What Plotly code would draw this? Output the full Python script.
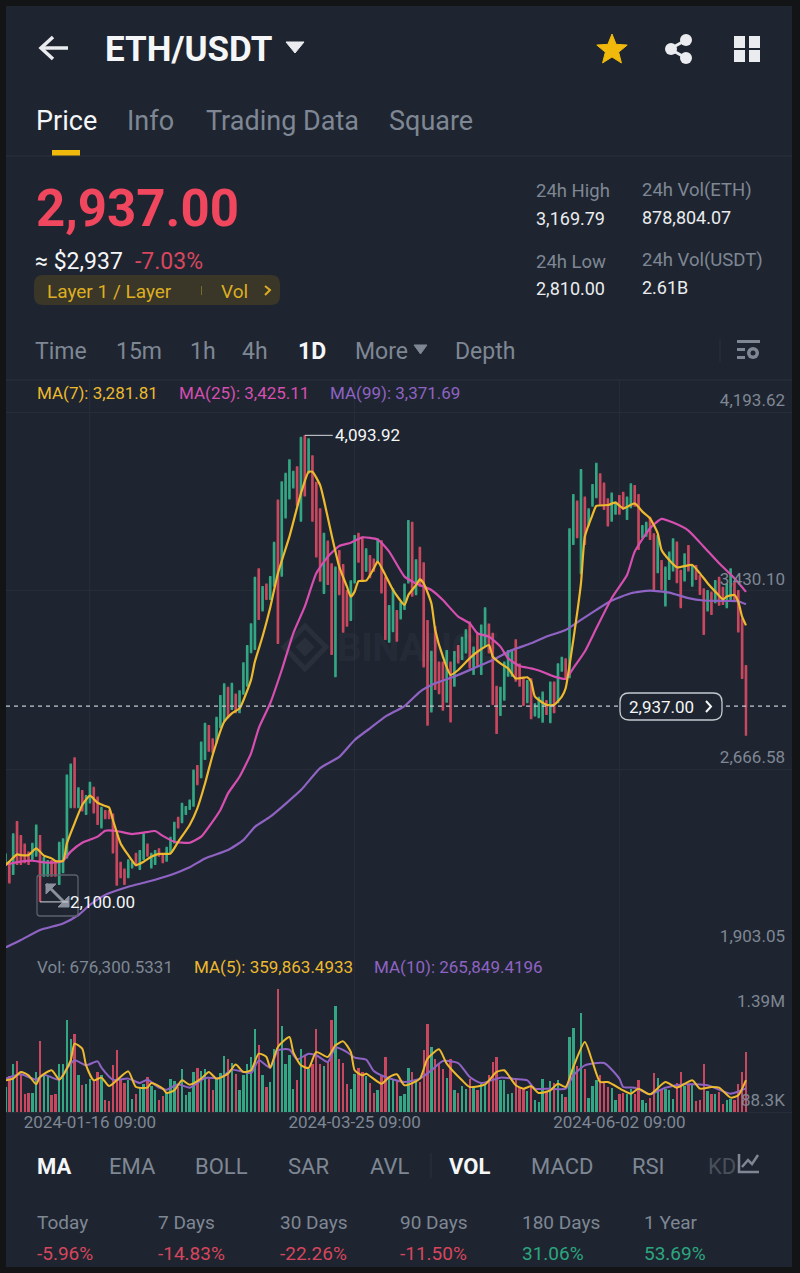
import math
import pandas as pd
import plotly.graph_objects as go

W, H = 800, 1273

# daily candles, 2023-12-25 .. 2024-07-05
dates = pd.date_range("2023-12-25 09:00", periods=194, freq="D")

high = [2308,2272,2393,2446,2386,2350,2315,2353,2431,2386,
        2293,2279,2279,2272,2357,2372,2645,2692,2718,2590,
        2578,2557,2614,2592,2550,2507,2493,2493,2478,2393,
        2272,2243,2282,2272,2310,2322,2393,2350,2310,2322,
        2329,2307,2336,2379,2443,2464,2524,2510,2538,2666,
        2685,2785,2866,2856,2799,2891,2984,3034,3020,3037,
        2991,3005,3124,3198,3291,3490,3526,3450,3461,3493,
        3639,3820,3898,3934,3992,3943,3962,4088,4093.92,4081,
        4009,3896,3782,3678,3644,3547,3533,3604,3544,3433,
        3475,3668,3678,3661,3611,3582,3568,3653,3646,3490,
        3369,3440,3347,3383,3461,3732,3725,3564,3618,3551,
        3305,3173,3279,3127,3127,3176,3127,3172,3198,3233,
        3265,3298,3191,3248,3286,3359,3290,3250,3024,3020,
        3127,3176,3176,3222,3119,3062,3048,3056,2949,2977,
        2999,2963,3042,3042,3120,3148,3141,3697,3843,3815,
        3950,3832,3782,3886,3977,3932,3892,3825,3850,3811,
        3839,3853,3832,3889,3882,3843,3711,3725,3746,3675,
        3668,3561,3533,3597,3654,3640,3519,3590,3625,3540,
        3540,3497,3440,3433,3426,3476,3490,3447,3462,3526,
        3469,3433,3312,3112]

low = [2253,2179,2215,2258,2258,2265,2258,2279,2293,2100,
       2208,2208,2208,2208,2172,2222,2286,2500,2500,2500,
       2486,2471,2521,2478,2429,2414,2453,2453,2307,2169,
       2201,2172,2201,2243,2251,2236,2279,2293,2243,2258,
       2293,2265,2272,2307,2350,2414,2436,2471,2493,2507,
       2599,2628,2706,2742,2735,2777,2842,2870,2884,2920,
       2906,2906,2985,3020,3163,3177,3305,3341,3390,3390,
       3447,3202,3490,3738,3820,3867,3792,3725,3832,3931,
       3725,3572,3468,3416,3454,3155,3060,3411,3250,3276,
       3300,3461,3549,3475,3511,3483,3511,3547,3418,3219,
       3208,3252,3212,3307,3347,3461,3404,3411,3447,3102,
       2853,2909,3006,2987,2917,2951,2867,3020,3119,3134,
       3162,3098,3070,3105,3070,3191,3162,2941,2818,2895,
       2960,3062,3062,3041,3020,2937,2949,2881,2892,2885,
       2866,2899,2864,2906,2949,3084,3049,3056,3625,3654,
       3500,3625,3707,3789,3825,3796,3775,3704,3725,3754,
       3754,3775,3732,3782,3789,3604,3654,3661,3647,3433,
       3504,3433,3362,3476,3512,3462,3355,3469,3512,3447,
       3476,3412,3241,3341,3326,3376,3366,3369,3355,3390,
       3390,3251,3053,2810]

open_ = [2263,2262,2225,2436,2376,2340,2305,2289,2303,2349,
         2218,2218,2269,2262,2182,2232,2296,2510,2708,2510,
         2568,2481,2531,2582,2540,2424,2483,2483,2468,2383,
         2262,2233,2211,2253,2300,2246,2289,2340,2253,2268,
         2319,2297,2282,2317,2360,2454,2446,2481,2503,2517,
         2675,2638,2716,2846,2789,2787,2852,2880,3010,2930,
         2981,2916,2995,3030,3173,3187,3516,3351,3451,3400,
         3457,3810,3500,3748,3830,3877,3952,3735,4084,3941,
         3999,3886,3772,3426,3634,3537,3070,3594,3534,3423,
         3310,3471,3668,3651,3521,3572,3558,3557,3636,3480,
         3218,3262,3337,3317,3357,3471,3715,3421,3608,3541,
         3295,2919,3269,3117,3117,2961,3117,3030,3188,3144,
         3172,3288,3080,3238,3080,3201,3280,3240,3014,2905,
         2970,3072,3072,3212,3109,3052,2959,3046,2902,2895,
         2876,2953,2874,3032,2959,3094,3131,3066,3635,3805,
         3510,3822,3717,3799,3835,3922,3882,3815,3735,3764,
         3829,3843,3742,3792,3872,3833,3664,3671,3736,3665,
         3514,3551,3372,3486,3522,3630,3509,3479,3615,3457,
         3530,3487,3430,3351,3416,3386,3480,3437,3365,3400,
         3459,3423,3302,3102]

close = [2298,2189,2383,2268,2268,2275,2268,2343,2421,2210,
         2283,2269,2218,2218,2347,2362,2635,2682,2510,2580,
         2496,2547,2604,2488,2439,2497,2463,2463,2317,2179,
         2211,2182,2272,2262,2261,2312,2383,2303,2300,2312,
         2303,2275,2326,2369,2433,2424,2514,2500,2528,2656,
         2609,2775,2856,2752,2745,2881,2974,3024,2894,3027,
         2916,2995,3114,3188,3281,3480,3315,3440,3400,3483,
         3629,3212,3888,3924,3982,3933,3802,4078,3842,4071,
         3735,3582,3478,3668,3464,3165,3523,3421,3260,3286,
         3465,3658,3559,3485,3601,3493,3521,3643,3428,3229,
         3359,3430,3222,3373,3451,3722,3414,3554,3457,3112,
         2863,3163,3016,2997,2927,3166,2877,3162,3129,3223,
         3255,3108,3181,3115,3276,3349,3172,2951,2828,3010,
         3117,3166,3166,3051,3030,2947,3038,2891,2939,2967,
         2989,2909,3032,2916,3110,3138,3059,3687,3833,3664,
         3940,3635,3772,3876,3967,3806,3785,3714,3840,3801,
         3764,3785,3822,3879,3799,3614,3701,3715,3657,3443,
         3658,3443,3523,3587,3644,3472,3365,3580,3522,3530,
         3486,3422,3251,3423,3336,3466,3376,3379,3452,3516,
         3400,3261,3063,2937]

# volume in thousands
volume_k = [282,406,537,579,413,207,218,214,451,796,
            432,402,188,207,537,545,1033,827,883,417,
            301,312,376,357,451,413,139,124,526,695,
            357,327,357,147,207,282,319,394,289,244,
            131,177,225,368,346,282,488,188,222,447,
            500,462,481,376,244,368,443,631,594,556,
            425,244,413,545,620,939,751,413,282,338,
            714,1386,966,537,639,255,357,714,627,488,
            545,939,545,515,564,1041,1198,601,552,319,
            263,432,496,451,402,327,214,244,402,620,
            376,357,346,180,207,492,455,357,338,695,
            988,733,601,545,488,387,601,244,218,289,
            255,376,289,252,319,319,421,560,620,357,
            357,199,218,357,282,263,237,301,139,113,
            368,225,349,327,357,199,169,845,947,515,
            1120,481,162,289,364,413,327,282,271,131,
            207,218,207,263,199,364,139,105,162,440,
            387,263,263,252,150,331,447,293,301,301,
            120,131,541,237,207,199,225,86,139,147,
            139,312,447,676.3]

# moving averages, read at the candle numbers listed with them
ma7_at = [0,1,3,4,6,8,10,12,13,15,16,18,20,22,24,26,27,28,30,32,34,36,38,40,43,45,48,50,52,54,57,59,61,
          64,65,67,69,71,74,77,79,80,82,83,85,87,89,90,91,92,94,96,97,99,101,104,105,107,108,109,111,112,
          114,116,118,121,123,126,127,129,131,133,136,137,138,141,143,145,146,148,150,151,153,154,157,159,
          161,164,166,168,170,171,173,175,179,181,183,185,187,188,190,191,192,193]
ma7 = [2258,2272,2303,2300,2300,2329,2298,2286,2275,2275,2350,2436,2514,2554,2524,2510,2503,2450,2350,
       2300,2258,2272,2293,2305,2307,2357,2429,2500,2606,2728,2870,2906,2927,3049,3127,3234,3358,3504,
       3661,3846,3938,3938,3881,3817,3668,3532,3447,3404,3426,3471,3473,3525,3554,3497,3433,3369,3411,
       3454,3478,3461,3376,3262,3148,3070,3091,3141,3169,3198,3148,3119,3098,3055,3060,3042,2977,2942,
       2942,2977,3013,3220,3462,3661,3754,3792,3796,3806,3782,3803,3768,3739,3675,3604,3561,3530,3540,
       3504,3462,3426,3393,3405,3412,3383,3319,3281.81]

ma25_at = [0,4,7,10,13,15,17,20,24,26,29,33,36,39,41,44,48,51,53,56,58,61,64,66,69,72,75,78,81,84,87,90,
           93,97,100,104,107,111,114,118,121,123,126,129,131,134,137,139,143,146,148,151,154,158,162,164,
           168,171,174,178,182,186,190,193]
ma25 = [2260,2272,2276,2269,2269,2275,2315,2353,2379,2404,2403,2390,2396,2403,2382,2357,2353,2379,2421,
        2493,2564,2635,2735,2842,2949,3091,3248,3362,3504,3575,3621,3635,3658,3649,3597,3490,3461,3433,
        3390,3319,3290,3248,3233,3191,3141,3108,3098,3089,3063,3053,3099,3170,3269,3398,3497,3597,3697,
        3737,3721,3687,3618,3547,3483,3425.11]

ma99_at = [0,4,9,15,19,22,26,32,37,43,48,52,58,62,65,69,77,82,87,91,95,99,104,108,112,117,122,127,132,137,
           141,146,150,154,158,163,168,173,178,182,187,191,193]
ma99 = [1905,1937,1980,2008,2044,2087,2130,2165,2186,2215,2248,2286,2322,2364,2421,2464,2578,2672,2720,
        2792,2842,2892,2937,2998,3034,3063,3098,3134,3176,3205,3234,3262,3305,3348,3388,3419,3430,3422,
        3398,3388,3386,3385,3371.69]

vol_ma5_at = [0,2,4,6,8,9,12,14,15,17,18,20,21,23,25,27,29,32,34,37,38,41,42,44,46,48,51,53,55,58,60,62,64,66,
              68,69,71,74,75,77,79,81,84,86,88,90,91,93,94,98,100,102,104,108,110,113,115,119,121,125,128,
              130,133,135,137,139,142,144,146,148,151,153,155,157,161,163,165,168,172,175,179,181,184,186,
              189,191,193]
vol_ma5 = [357,376,451,413,312,394,470,364,413,582,770,714,526,357,387,293,357,458,282,274,327,263,214,244,
           357,308,376,451,376,432,534,451,470,657,620,500,733,845,676,526,496,676,620,751,796,676,470,413,
           432,319,394,425,301,376,601,706,545,357,282,312,451,470,301,263,289,214,244,319,282,507,789,564,
           338,338,244,207,263,199,338,274,357,263,282,274,162,188,359.86]

vol_ma10_at = [0,4,6,8,10,14,16,18,21,24,25,28,32,35,37,40,42,45,48,52,56,59,64,66,69,71,74,76,79,81,84,86,89,
               91,94,96,99,104,108,111,114,118,121,124,129,133,136,138,142,146,148,151,156,160,161,164,168,172,
               177,183,189,193]
vol_ma10 = [376,425,394,364,421,364,488,582,526,571,500,364,376,327,364,274,252,312,274,383,383,477,440,582,
            500,695,703,594,657,639,564,725,676,612,590,462,394,338,376,470,575,552,394,327,387,372,357,263,
            263,263,413,526,552,376,282,274,199,274,312,301,207,265.85]

price_ticks = [4193.62, 3430.10, 2666.58, 1903.05]
date_ticks = ["2024-01-16 09:00", "2024-03-25 09:00", "2024-06-02 09:00"]
last_price = 2937.00

BG = "#1E2530"
EDGE = "#131415"
LINE = "#2B313C"
GRID = "#272D38"
GREEN = "#33A683"
RED = "#C9485F"
GOLD = "#F0B90B"
YEL = "#EDB92E"
PINK = "#D64FB0"
PURP = "#8F63C3"
GREY = "#7F8794"
WHITE = "#EAECEF"
FONT = "Roboto"


def px(x):
    return x / W


def py(y):
    return 1 - y / H


texts = []
shapes = []


def txt(x, y, s, size=18, color=GREY, bold=False, anchor="left"):
    # annotations carry about 1.5px of padding
    texts.append(dict(x=px(x - 1.5), y=py(y), xref="paper", yref="paper", text=f"<b>{s}</b>" if bold else s,
                      showarrow=False, xanchor=anchor, yanchor="middle",
                      font=dict(size=size, color=color, family=FONT)))


def rect(x0, y0, x1, y1, fill, line=None, layer="above"):
    shapes.append(dict(type="rect", xref="paper", yref="paper", x0=px(x0), x1=px(x1), y0=py(y0), y1=py(y1),
                       fillcolor=fill, line=dict(width=0 if line is None else 1, color=line or fill), layer=layer))


def path(points, color, width=2, fill=None, close_it=False, layer="above"):
    d = "M " + " L ".join(f"{px(a):.5f},{py(b):.5f}" for a, b in points) + (" Z" if close_it else "")
    shapes.append(dict(type="path", xref="paper", yref="paper", path=d, layer=layer,
                       fillcolor=fill if fill else "rgba(0,0,0,0)", line=dict(color=color, width=width)))


def round_box(x0, y0, x1, y1, r, fill, line, layer="above"):
    a, b, c, e = px(x0), py(y0), px(x1), py(y1)
    rx, ry = r / W, r / H
    d = (f"M {a+rx},{b} L {c-rx},{b} Q {c},{b} {c},{b-ry} L {c},{e+ry} Q {c},{e} {c-rx},{e} "
         f"L {a+rx},{e} Q {a},{e} {a},{e+ry} L {a},{b-ry} Q {a},{b} {a+rx},{b} Z")
    shapes.append(dict(type="path", xref="paper", yref="paper", path=d, fillcolor=fill, layer=layer,
                       line=dict(color=line, width=1.3 if line != fill else 0)))


def dot(x, y, r, color):
    shapes.append(dict(type="circle", xref="paper", yref="paper", x0=px(x - r), x1=px(x + r), y0=py(y - r),
                       y1=py(y + r), fillcolor=color, line=dict(width=0)))


# page background
rect(6, 6, 792, 1267, BG, layer="below")

# header
path([(68, 48), (41, 48)], WHITE, 3.5)
path([(53, 37), (41, 48), (53, 59)], WHITE, 3.5)
txt(104, 49, "ETH/USDT", 35, "#F5F6F7", True)
path([(286, 42), (304, 42), (295, 53)], WHITE, 1, WHITE, True)
star = []
for k in range(10):
    r = 16 if k % 2 == 0 else 7
    star.append((612 + r * math.sin(k * math.pi / 5), 50 - r * math.cos(k * math.pi / 5)))
path(star, GOLD, 1, GOLD, True)
path([(686, 40), (670, 49), (686, 58)], WHITE, 3)
dot(686, 40, 6, WHITE)
dot(671, 49, 6, WHITE)
dot(686, 58, 6, WHITE)
for a, b in [(734, 36), (749, 36), (734, 50), (749, 50)]:
    rect(a, b, a + 11, b + 12, WHITE)

txt(35, 121, "Price", 27, "#F5F6F7")
txt(126, 121, "Info", 27)
txt(205, 121, "Trading Data", 27)
txt(388, 121, "Square", 27)
rect(52, 150, 80, 156, GOLD)
rect(6, 155.5, 792, 156.5, LINE)

txt(35, 208, "2,937.00", 51, "#F0475F", True)
txt(34, 261, "≈ $2,937", 23, "#F5F6F7")
txt(134, 261, "-7.03%", 23, "#D8465E")
round_box(34, 275, 280, 305, 9, "#3A3628", "#3A3628")
txt(46, 291, "Layer 1 / Layer", 19, "#DDAE22")
rect(201, 286, 202, 295, "#7A6A30")
txt(220, 291, "Vol", 19, "#DDAE22")
path([(265, 286), (270, 290), (265, 295)], "#DDAE22", 2)

txt(535, 191, "24h High", 18.5)
txt(535, 218, "3,169.79", 18, WHITE)
txt(641, 190, "24h Vol(ETH)", 18.5)
txt(641, 217, "878,804.07", 18, WHITE)
txt(535, 262, "24h Low", 18.5)
txt(535, 288, "2,810.00", 18, WHITE)
txt(641, 260, "24h Vol(USDT)", 18.5)
txt(641, 287, "2.61B", 18, WHITE)

for x, s in [(34, "Time"), (115, "15m"), (189, "1h"), (242, "4h"), (354, "More"), (454, "Depth")]:
    txt(x, 351, s, 23)
txt(297, 351, "1D", 23, "#F5F6F7", True)
path([(414, 345), (427, 345), (420.5, 354)], GREY, 1, GREY, True)
rect(719.5, 339, 720.5, 362, LINE)
rect(737, 340, 760, 343, GREY)
rect(737, 348, 745, 351, GREY)
rect(737, 356, 745, 359, GREY)
dot(753, 353, 6, GREY)
dot(753, 353, 2.5, BG)
rect(6, 379.5, 792, 380.5, LINE)

txt(36, 393, "MA(7): 3,281.81", 17, YEL)
txt(178, 393, "MA(25): 3,425.11", 17, PINK)
txt(329, 393, "MA(99): 3,371.69", 17, PURP)

# watermark
for pts in [[(305, 626), (326, 647), (305, 669), (284, 647)]]:
    path(pts, "#2A303B", 5, None, True, "below")
path([(305, 638), (314, 647), (305, 656), (296, 647)], "#2A303B", 1, "#2A303B", True, "below")
txt(336, 648, "BINANCE", 38, "rgba(255,255,255,0.055)", True)

# last price marker
shapes.append(dict(type="line", xref="paper", yref="y", x0=px(6), x1=px(790), y0=last_price, y1=last_price,
                   line=dict(color="#C5C9CF", width=1.2, dash="4px,4px")))
round_box(620, 693, 722, 720, 9, BG, "#C5C9CF")
txt(628, 706.5, "2,937.00", 17, "#F5F6F7")
path([(706, 701), (711, 706.5), (706, 712)], "#F5F6F7", 2)

# expand icon
round_box(37, 875, 78, 916, 3, "rgba(0,0,0,0)", "#5B626E")
path([(46, 884), (68, 906)], "#8A919D", 3)
path([(46, 894), (46, 884), (56, 884)], "#8A919D", 1, "#8A919D", True)
path([(69, 896), (69, 907), (58, 907)], "#8A919D", 1, "#8A919D", True)

txt(36, 967, "Vol: 676,300.5331", 17)
txt(193, 967, "MA(5): 359,863.4933", 17, YEL)
txt(373, 967, "MA(10): 265,849.4196", 17, PURP)

# bottom tabs
for x, s in [(108, "EMA"), (194, "BOLL"), (287, "SAR"), (369, "AVL"), (530, "MACD"), (631, "RSI")]:
    txt(x, 1166, s, 22)
txt(36, 1166, "MA", 22, "#F5F6F7", True)
txt(448, 1166, "VOL", 22, "#F5F6F7", True)
txt(707, 1166, "KD", 22, "#4A505B")
rect(430.5, 1153, 431.5, 1178, LINE)
path([(739, 1154), (739, 1172), (759, 1172)], GREY, 2.5)
path([(742, 1167), (748, 1160), (752, 1164), (758, 1155)], GREY, 2.5)

stat_names = ["Today", "7 Days", "30 Days", "90 Days", "180 Days", "1 Year"]
stat_values = ["-5.96%", "-14.83%", "-22.26%", "-11.50%", "31.06%", "53.69%"]
stat_x = [36, 157, 279, 399, 521, 643]
for x, n, v in zip(stat_x, stat_names, stat_values):
    txt(x, 1222, n, 19)
    txt(x, 1253, v, 19, "#2DA57F" if v[0] != "-" else "#D8465E")

vol = [v * 1000 for v in volume_k]
vol_colors = [GREEN if c >= o else RED for o, c in zip(open_, close)]


def at(idx):
    return [dates[k] for k in idx]


fig = go.Figure()
fig.add_trace(go.Candlestick(x=dates, open=open_, high=high, low=low, close=close, whiskerwidth=0,
                             increasing=dict(line=dict(color=GREEN, width=2.4), fillcolor=GREEN),
                             decreasing=dict(line=dict(color=RED, width=2.4), fillcolor=RED),
                             xaxis="x", yaxis="y", showlegend=False, hoverinfo="skip"))
for xs, ys, col in [(ma99_at, ma99, PURP), (ma25_at, ma25, PINK), (ma7_at, ma7, YEL)]:
    fig.add_trace(go.Scatter(x=at(xs), y=ys, mode="lines", line=dict(color=col, width=2.2, shape="spline", smoothing=0.5),
                             xaxis="x", yaxis="y", showlegend=False, hoverinfo="skip"))

fig.add_trace(go.Bar(x=dates, y=vol, marker=dict(color=vol_colors, line=dict(width=0)), width=0.62 * 86400000,
                     xaxis="x2", yaxis="y2", showlegend=False, hoverinfo="skip"))
for xs, ys, col in [(vol_ma10_at, vol_ma10, PURP), (vol_ma5_at, vol_ma5, YEL)]:
    fig.add_trace(go.Scatter(x=at(xs), y=[v * 1000 for v in ys], mode="lines",
                             line=dict(color=col, width=2, shape="spline", smoothing=0.6),
                             xaxis="x2", yaxis="y2", showlegend=False, hoverinfo="skip"))

# hi / lo callouts and volume axis labels
texts.append(dict(x=dates[78], y=4093.92, xref="x", yref="y", text="4,093.92", ax=28, ay=0, xanchor="left",
                  showarrow=True, arrowhead=0, arrowwidth=1, arrowcolor="#D5D8DC",
                  font=dict(size=17, color="#F5F6F7", family=FONT)))
texts.append(dict(x=dates[9], y=2100, xref="x", yref="y", text="2,100.00", ax=28, ay=0, xanchor="left",
                  showarrow=True, arrowhead=0, arrowwidth=1, arrowcolor="#D5D8DC",
                  font=dict(size=17, color="#F5F6F7", family=FONT)))
texts.append(dict(x=px(787), y=1390000, xref="paper", yref="y2", text="1.39M", showarrow=False, xanchor="right",
                  yanchor="top", font=dict(size=17, color=GREY, family=FONT)))
texts.append(dict(x=px(787), y=135000, xref="paper", yref="y2", text="88.3K", showarrow=False, xanchor="right",
                  yanchor="middle", font=dict(size=17, color=GREY, family=FONT)))

x_range = ["2023-12-25 12:00", "2024-07-17 09:00"]
fig.update_layout(
    width=W, height=H, margin=dict(l=0, r=0, t=0, b=0), autosize=False,
    paper_bgcolor=EDGE, plot_bgcolor="rgba(0,0,0,0)", showlegend=False, boxgap=0.9, bargap=0,
    font=dict(family=FONT),
    xaxis=dict(domain=[px(6), px(792)], range=x_range, type="date", anchor="y", rangeslider=dict(visible=False),
               tickvals=date_ticks, showticklabels=False, showgrid=True, gridcolor=GRID, gridwidth=1, zeroline=False,
               ticks=""),
    yaxis=dict(domain=[py(948), py(380)], range=[1903.05, 4330.36], side="right", anchor="x", tickvals=price_ticks,
               tickformat=",.2f", ticklabelposition="inside", ticklabelshift=-12, ticklabelstandoff=4,
               tickfont=dict(size=17, color=GREY, family=FONT), showgrid=True, gridcolor=GRID, gridwidth=1,
               zeroline=False, ticks=""),
    xaxis2=dict(domain=[px(6), px(792)], range=x_range, type="date", anchor="y2", matches="x", tickvals=date_ticks,
                tickformat="%Y-%m-%d %H:%M", tickfont=dict(size=17, color=GREY, family=FONT), showgrid=True,
                gridcolor=GRID, gridwidth=1, zeroline=False, ticks="", showline=True, linecolor=GRID, ticklabelstandoff=-5),
    yaxis2=dict(domain=[py(1112), py(948)], range=[0, 1848000], side="right", anchor="x2", showticklabels=False,
                showgrid=False, zeroline=False, ticks=""),
    shapes=shapes, annotations=texts,
)

fig.write_html("out.html", config={"displayModeBar": False}, post_script="document.body.style.margin = '0';")
